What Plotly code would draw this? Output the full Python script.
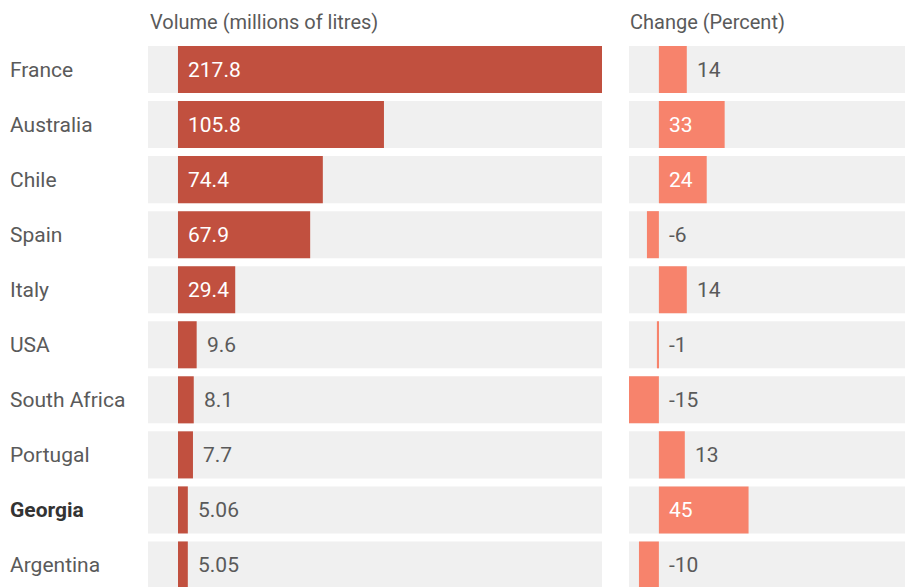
import plotly.graph_objects as go

countries = ["France", "Australia", "Chile", "Spain", "Italy", "USA",
             "South Africa", "Portugal", "Georgia", "Argentina"]
volume = [217.8, 105.8, 74.4, 67.9, 29.4, 9.6, 8.1, 7.7, 5.06, 5.05]
volume_labels = ["217.8", "105.8", "74.4", "67.9", "29.4", "9.6", "8.1", "7.7", "5.06", "5.05"]
change = [14, 33, 24, -6, 14, -1, -15, 13, 45, -10]
change_labels = ["14", "33", "24", "-6", "14", "-1", "-15", "13", "45", "-10"]
bold_country = "Georgia"

# page body has an 8px margin, so the figure is drawn 8px smaller and offset
W, H = 905, 579
TOP = 34
FONT = "Roboto, 'Open Sans', sans-serif"
DARK = "#c1503f"
SALMON = "#f7836c"
BAND = "#f0f0f0"
TEXT = "#5a5a5a"
FS = 21

vol_range = [-15.4, 217.8]
chg_range = [-15, 125]
ypos = list(range(len(countries)))
BW = 0.855

fig = go.Figure()
# background bands
fig.add_trace(go.Bar(y=ypos, x=[vol_range[1] - vol_range[0]] * len(ypos), base=vol_range[0],
                     orientation="h", marker=dict(color=BAND, line_width=0),
                     xaxis="x", yaxis="y", hoverinfo="skip", width=BW))
fig.add_trace(go.Bar(y=ypos, x=[chg_range[1] - chg_range[0]] * len(ypos), base=chg_range[0],
                     orientation="h", marker=dict(color=BAND, line_width=0),
                     xaxis="x2", yaxis="y", hoverinfo="skip", width=BW))
# data bars
fig.add_trace(go.Bar(y=ypos, x=volume, orientation="h", marker=dict(color=DARK, line_width=0),
                     xaxis="x", yaxis="y", width=BW))
fig.add_trace(go.Bar(y=ypos, x=change, orientation="h", marker=dict(color=SALMON, line_width=0),
                     xaxis="x2", yaxis="y", width=BW))

annotations = []
# value labels
for i, (v, lab) in enumerate(zip(volume, volume_labels)):
    inside = v > 25
    annotations.append(dict(x=0 if inside else v, y=i, xref="x", yref="y", text=lab,
                            showarrow=False, xanchor="left", xshift=8,
                            font=dict(family=FONT, size=FS, color="white" if inside else TEXT)))
for i, (v, lab) in enumerate(zip(change, change_labels)):
    inside = v > 20
    annotations.append(dict(x=0 if (inside or v < 0) else v, y=i, xref="x2", yref="y", text=lab,
                            showarrow=False, xanchor="left", xshift=8,
                            font=dict(family=FONT, size=FS, color="white" if inside else TEXT)))
# country labels
for i, c in enumerate(countries):
    txt = f"<b>{c}</b>" if c == bold_country else c
    annotations.append(dict(x=0, y=i, xref="paper", yref="y", text=txt, showarrow=False,
                            xanchor="left", font=dict(family=FONT, size=FS,
                                                      color="#333" if c == bold_country else TEXT)))
# headers
PH = H - TOP
hy = 1 + (TOP - 14) / PH
annotations.append(dict(x=140 / W, y=hy, xref="paper", yref="paper",
                        text="Volume (millions of litres)", showarrow=False, xanchor="left",
                        yanchor="middle", font=dict(family=FONT, size=20, color=TEXT)))
annotations.append(dict(x=620 / W, y=hy, xref="paper", yref="paper",
                        text="Change (Percent)", showarrow=False, xanchor="left",
                        yanchor="middle", font=dict(family=FONT, size=20, color=TEXT)))

fig.update_layout(
    width=W, height=H, margin=dict(l=0, r=0, t=TOP, b=0),
    paper_bgcolor="white", plot_bgcolor="white",
    barmode="overlay", showlegend=False,
    xaxis=dict(domain=[140 / W, 594 / W], range=vol_range, visible=False, fixedrange=True),
    xaxis2=dict(domain=[621 / W, 900 / W], range=chg_range, visible=False, fixedrange=True),
    yaxis=dict(range=[9.4, -0.5], visible=False, fixedrange=True),
    annotations=annotations,
)

fig.write_html("out.html")
